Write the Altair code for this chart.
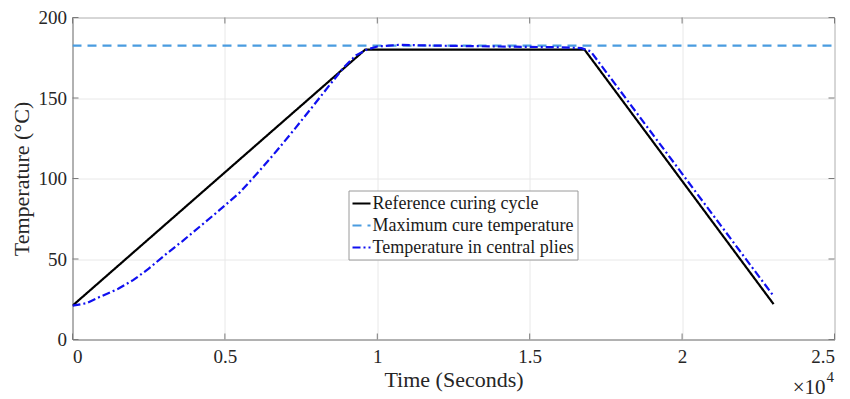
import altair as alt
import pandas as pd

# Reference curing cycle
ref_t = [0, 9600, 16800, 23000]
ref_T = [21, 180, 180, 22]

# Maximum cure temperature
max_t = [0, 25000]
max_T = [182.5, 182.5]

# Temperature in central plies
ply_t = [0, 450, 900, 1500, 2000, 2500, 3100, 3600, 4200, 4800, 5500, 6100, 6700, 7300,
         7800, 8400, 8900, 9300, 9650, 10000, 10700, 12000, 14000, 16000, 16700, 17000, 23000]
ply_T = [21, 22.5, 26.5, 31.5, 37, 44, 53.5, 61, 70.5, 80, 91.5, 104, 117.2, 131,
         142.8, 157.2, 169, 176.5, 180, 182, 183, 182.5, 182, 181.5, 181, 179, 27]

names = ["Reference curing cycle", "Maximum cure temperature", "Temperature in central plies"]

x_ticks = [0, 5000, 10000, 15000, 20000, 25000]
y_ticks = [0, 50, 100, 150, 200]

rows = []
for t, T in zip(ref_t, ref_T):
    rows.append({"t": t, "T": T, "series": names[0], "o": 0})
for t, T in zip(max_t, max_T):
    rows.append({"t": t, "T": T, "series": names[1], "o": 1})
for t, T in zip(ply_t, ply_T):
    rows.append({"t": t, "T": T, "series": names[2], "o": 2})
df = pd.DataFrame(rows)

FONT = "Liberation Serif"
W, H = 762, 322
TICK = "#7a7a7a"

leg = dict(title=None, orient="none", legendX=276, legendY=173,
           symbolType="stroke", symbolSize=324,
           symbolStrokeWidth=2, labelFontSize=18, labelFont=FONT,
           labelColor="#1a1a1a", rowPadding=3, padding=3,
           labelOffset=1, strokeColor="#9a9a9a",
           fillColor="white", labelLimit=400)

xscale = alt.Scale(domain=[0, 25000], nice=False)
yscale = alt.Scale(domain=[0, 200], nice=False)

lines = alt.Chart(df).mark_line(strokeWidth=2.2, clip=True).encode(
    x=alt.X("t:Q", scale=xscale,
            axis=alt.Axis(values=x_ticks,
                          labelExpr="datum.value/10000", title="Time (Seconds)",
                          labelFont=FONT, titleFont=FONT, labelPadding=8, titlePadding=3)),
    y=alt.Y("T:Q", scale=yscale,
            axis=alt.Axis(values=y_ticks, title="Temperature (°C)",
                          labelFont=FONT, titleFont=FONT, labelPadding=6, titlePadding=5)),
    color=alt.Color("series:N",
                    scale=alt.Scale(domain=names, range=["#000000", "#4a9ce0", "#1010f0"]),
                    legend=alt.Legend(**leg)),
    strokeDash=alt.StrokeDash("series:N",
                              scale=alt.Scale(domain=names, range=[[1, 0], [9, 6], [8, 3, 2, 3]]),
                              legend=alt.Legend(**leg)),
    order="o:Q",
    detail="series:N",
)

xt = pd.DataFrame({"t": x_ticks})
yt = pd.DataFrame({"T": y_ticks})
xb = alt.Chart(xt).mark_rule(color=TICK, strokeWidth=1).encode(
    x=alt.X("t:Q"), y=alt.value(H), y2=alt.value(H - 6))
xtop = alt.Chart(xt).mark_rule(color=TICK, strokeWidth=1).encode(
    x=alt.X("t:Q"), y=alt.value(0), y2=alt.value(6))
yl = alt.Chart(yt).mark_rule(color=TICK, strokeWidth=1).encode(
    y=alt.Y("T:Q"), x=alt.value(0), x2=alt.value(6))
yr = alt.Chart(yt).mark_rule(color=TICK, strokeWidth=1).encode(
    y=alt.Y("T:Q"), x=alt.value(W - 6), x2=alt.value(W))

ann = pd.DataFrame({"a": [0]})
x10 = alt.Chart(ann).mark_text(text="×10", font=FONT, fontSize=21, align="right",
                               baseline="alphabetic", color="#262626").encode(
    x=alt.value(753), y=alt.value(376))
sup = alt.Chart(ann).mark_text(text="4", font=FONT, fontSize=15, align="left",
                               baseline="alphabetic", color="#262626").encode(
    x=alt.value(754), y=alt.value(364))

chart = alt.layer(lines, xb, xtop, yl, yr, x10, sup).properties(
    width=W, height=H,
    autosize=alt.AutoSizeParams(type="none"),
    padding={"left": 72.5, "top": 17.5, "right": 15.5, "bottom": 59.5},
    background="white",
).configure(
    font=FONT
).configure_view(
    stroke="#8c8c8c", strokeWidth=1
).configure_axis(
    labelFont=FONT, titleFont=FONT, labelFontSize=19, titleFontSize=22,
    labelColor="#262626", titleColor="#262626", titleFontWeight="normal",
    domainColor="#8c8c8c", gridColor="#e8e8e8", ticks=False, tickSize=0,
)

chart.save("out.html", embed_options={"renderer": "svg", "actions": False})
